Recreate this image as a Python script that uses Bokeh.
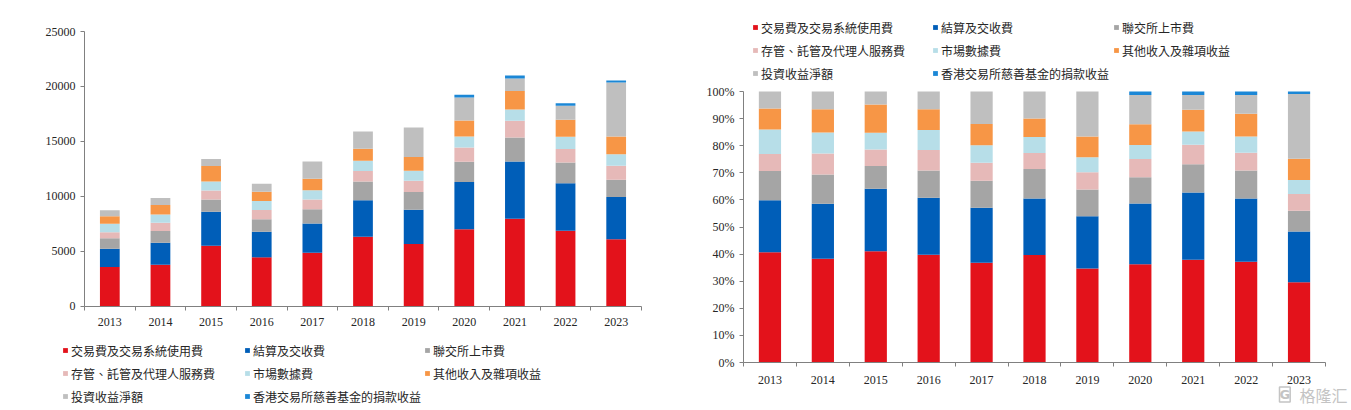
from bokeh.plotting import figure
from bokeh.layouts import row
from bokeh.models import Range1d, FixedTicker, Legend, LegendItem, NumeralTickFormatter, Label
from bokeh.embed import file_html
from bokeh.resources import INLINE

years = ["2013", "2014", "2015", "2016", "2017", "2018", "2019", "2020", "2021", "2022", "2023"]
series_names = ["交易費及交易系統使用費", "結算及交收費", "聯交所上市費", "存管、託管及代理人服務費",
                "市場數據費", "其他收入及雜項收益", "投資收益淨額", "香港交易所慈善基金的捐款收益"]
colors = ["#E3121B", "#005EB8", "#A5A5A5", "#E6B9B8", "#B7DEE8", "#F79646", "#BFBFBF", "#1B87D6"]

trading_fees = [3550, 3760, 5490, 4430, 4850, 6310, 5640, 6980, 7950, 6860, 6070]
clearing_fees = [1670, 2000, 3090, 2340, 2670, 3310, 3130, 4310, 5220, 4310, 3850]
listing_fees = [940, 1060, 1120, 1120, 1300, 1730, 1610, 1850, 2180, 1910, 1580]
custody_fees = [550, 760, 820, 850, 880, 940, 1030, 1300, 1520, 1210, 1270]
market_data_fees = [790, 760, 820, 820, 850, 940, 910, 1000, 1030, 1120, 1060]
other_income = [670, 850, 1400, 850, 1030, 1090, 1240, 1460, 1670, 1550, 1610]
investment_income = [550, 640, 640, 730, 1580, 1580, 2700, 2090, 1150, 1270, 4910]
charity_income = [0, 0, 0, 0, 0, 0, 0, 240, 270, 240, 180]

series_values = [trading_fees, clearing_fees, listing_fees, custody_fees,
                 market_data_fees, other_income, investment_income, charity_income]

y_ticks_left = [0, 5000, 10000, 15000, 20000, 25000]
y_ticks_right = [0, 0.1, 0.2, 0.3, 0.4, 0.5, 0.6, 0.7, 0.8, 0.9, 1.0]
watermark = "格隆汇"

idx = list(range(len(years)))
keys = ["s%d" % i for i in range(len(series_names))]
totals = [sum(s[i] for s in series_values) for i in idx]

src_abs = {"x": idx}
src_pct = {"x": idx}
for k, s in zip(keys, series_values):
    src_abs[k] = s
    src_pct[k] = [v / t for v, t in zip(s, totals)]

TICK_FONT = "Liberation Serif"
LEG_FONT = "Noto Sans CJK TC"
AXIS_COLOR = "#808080"
TEXT_COLOR = "#262626"
H = 410


def make_fig(W, frame_l, frame_r, frame_t, frame_b, y0, y1, x_standoff):
    """Figure whose frame is the whole canvas; plot area given in canvas px."""
    n = len(years)
    ppx = (frame_r - frame_l) / n
    ppy = (frame_b - frame_t) / (y1 - y0)
    xr = Range1d(-0.5 - frame_l / ppx, n - 0.5 + (W - frame_r) / ppx)
    yr = Range1d(y0 - (H - frame_b) / ppy, y1 + frame_t / ppy)
    p = figure(width=W, height=H, output_backend="svg", toolbar_location=None,
               x_range=xr, y_range=yr, min_border=0, min_border_left=0, min_border_right=0,
               min_border_top=0, min_border_bottom=0)
    p.xgrid.visible = False
    p.ygrid.visible = False
    p.outline_line_color = None
    xa = p.xaxis[0]
    xa.fixed_location = y0
    xa.bounds = (-0.5, n - 0.5)
    xa.ticker = FixedTicker(ticks=idx, minor_ticks=[i - 0.5 for i in range(n + 1)])
    xa.major_label_overrides = {i: y for i, y in enumerate(years)}
    xa.major_tick_out = 0
    xa.major_tick_in = 0
    xa.minor_tick_out = 4
    xa.minor_tick_in = 0
    xa.minor_tick_line_color = AXIS_COLOR
    xa.axis_line_color = AXIS_COLOR
    xa.major_label_standoff = x_standoff
    xa.major_label_text_font = TICK_FONT
    xa.major_label_text_font_size = "12px"
    xa.major_label_text_color = TEXT_COLOR
    ya = p.yaxis[0]
    ya.fixed_location = -0.5
    ya.bounds = (y0, y1)
    ya.major_tick_out = 4
    ya.major_tick_in = 0
    ya.minor_tick_out = 0
    ya.minor_tick_in = 0
    ya.axis_line_color = AXIS_COLOR
    ya.major_tick_line_color = AXIS_COLOR
    ya.major_label_standoff = 5
    ya.major_label_text_font = TICK_FONT
    ya.major_label_text_font_size = "12px"
    ya.major_label_text_color = TEXT_COLOR
    return p


def add_legends(p, renderers, col_x, top_y, item_h=18, sp=5):
    columns = [[0, 3, 6], [1, 4, 7], [2, 5]]
    for cx, col in zip(col_x, columns):
        items = [LegendItem(label=series_names[i], renderers=[renderers[i]]) for i in col]
        height = len(col) * item_h + (len(col) - 1) * sp
        leg = Legend(items=items, location=(cx, H - top_y - height),
                     orientation="vertical",
                     label_text_font=LEG_FONT, label_text_font_size="12px",
                     label_text_color=TEXT_COLOR,
                     glyph_width=6, glyph_height=6, label_standoff=3, spacing=sp,
                     label_height=item_h, padding=0, margin=0,
                     border_line_color=None, background_fill_alpha=0)
        p.add_layout(leg)


# Left chart: absolute values
p1 = make_fig(675, 84, 641, 31, 305.5, 0, 25000, 8)
r1 = p1.vbar_stack(keys, x="x", width=0.39, color=colors, line_color=None, source=src_abs)
p1.yaxis[0].ticker = FixedTicker(ticks=y_ticks_left)
add_legends(p1, r1, [62, 244, 424], 341)

# Right chart: percentages (canvas starts at page x=675)
p2 = make_fig(675, 68, 650, 91, 362, 0, 1, 9)
r2 = p2.vbar_stack(keys, x="x", width=0.42, color=colors, line_color=None, source=src_pct)
p2.yaxis[0].ticker = FixedTicker(ticks=y_ticks_right)
p2.yaxis[0].formatter = NumeralTickFormatter(format="0%")
add_legends(p2, r2, [77, 257, 438], 18)

wm = Label(x=624, y=16, x_units="screen", y_units="screen", text=watermark,
           text_font=LEG_FONT, text_font_size="16px", text_color="#c4c4c4",
           text_baseline="middle")
p2.add_layout(wm)
wm_icon = Label(x=604, y=16, x_units="screen", y_units="screen", text="G",
                text_font="DejaVu Sans", text_font_size="13px", text_font_style="bold",
                text_color="#c4c4c4", text_baseline="middle",
                border_line_color="#c4c4c4", border_line_width=1.5)
p2.add_layout(wm_icon)

layout = row(p1, p2)
open("out.html", "w").write(file_html(layout, INLINE))
